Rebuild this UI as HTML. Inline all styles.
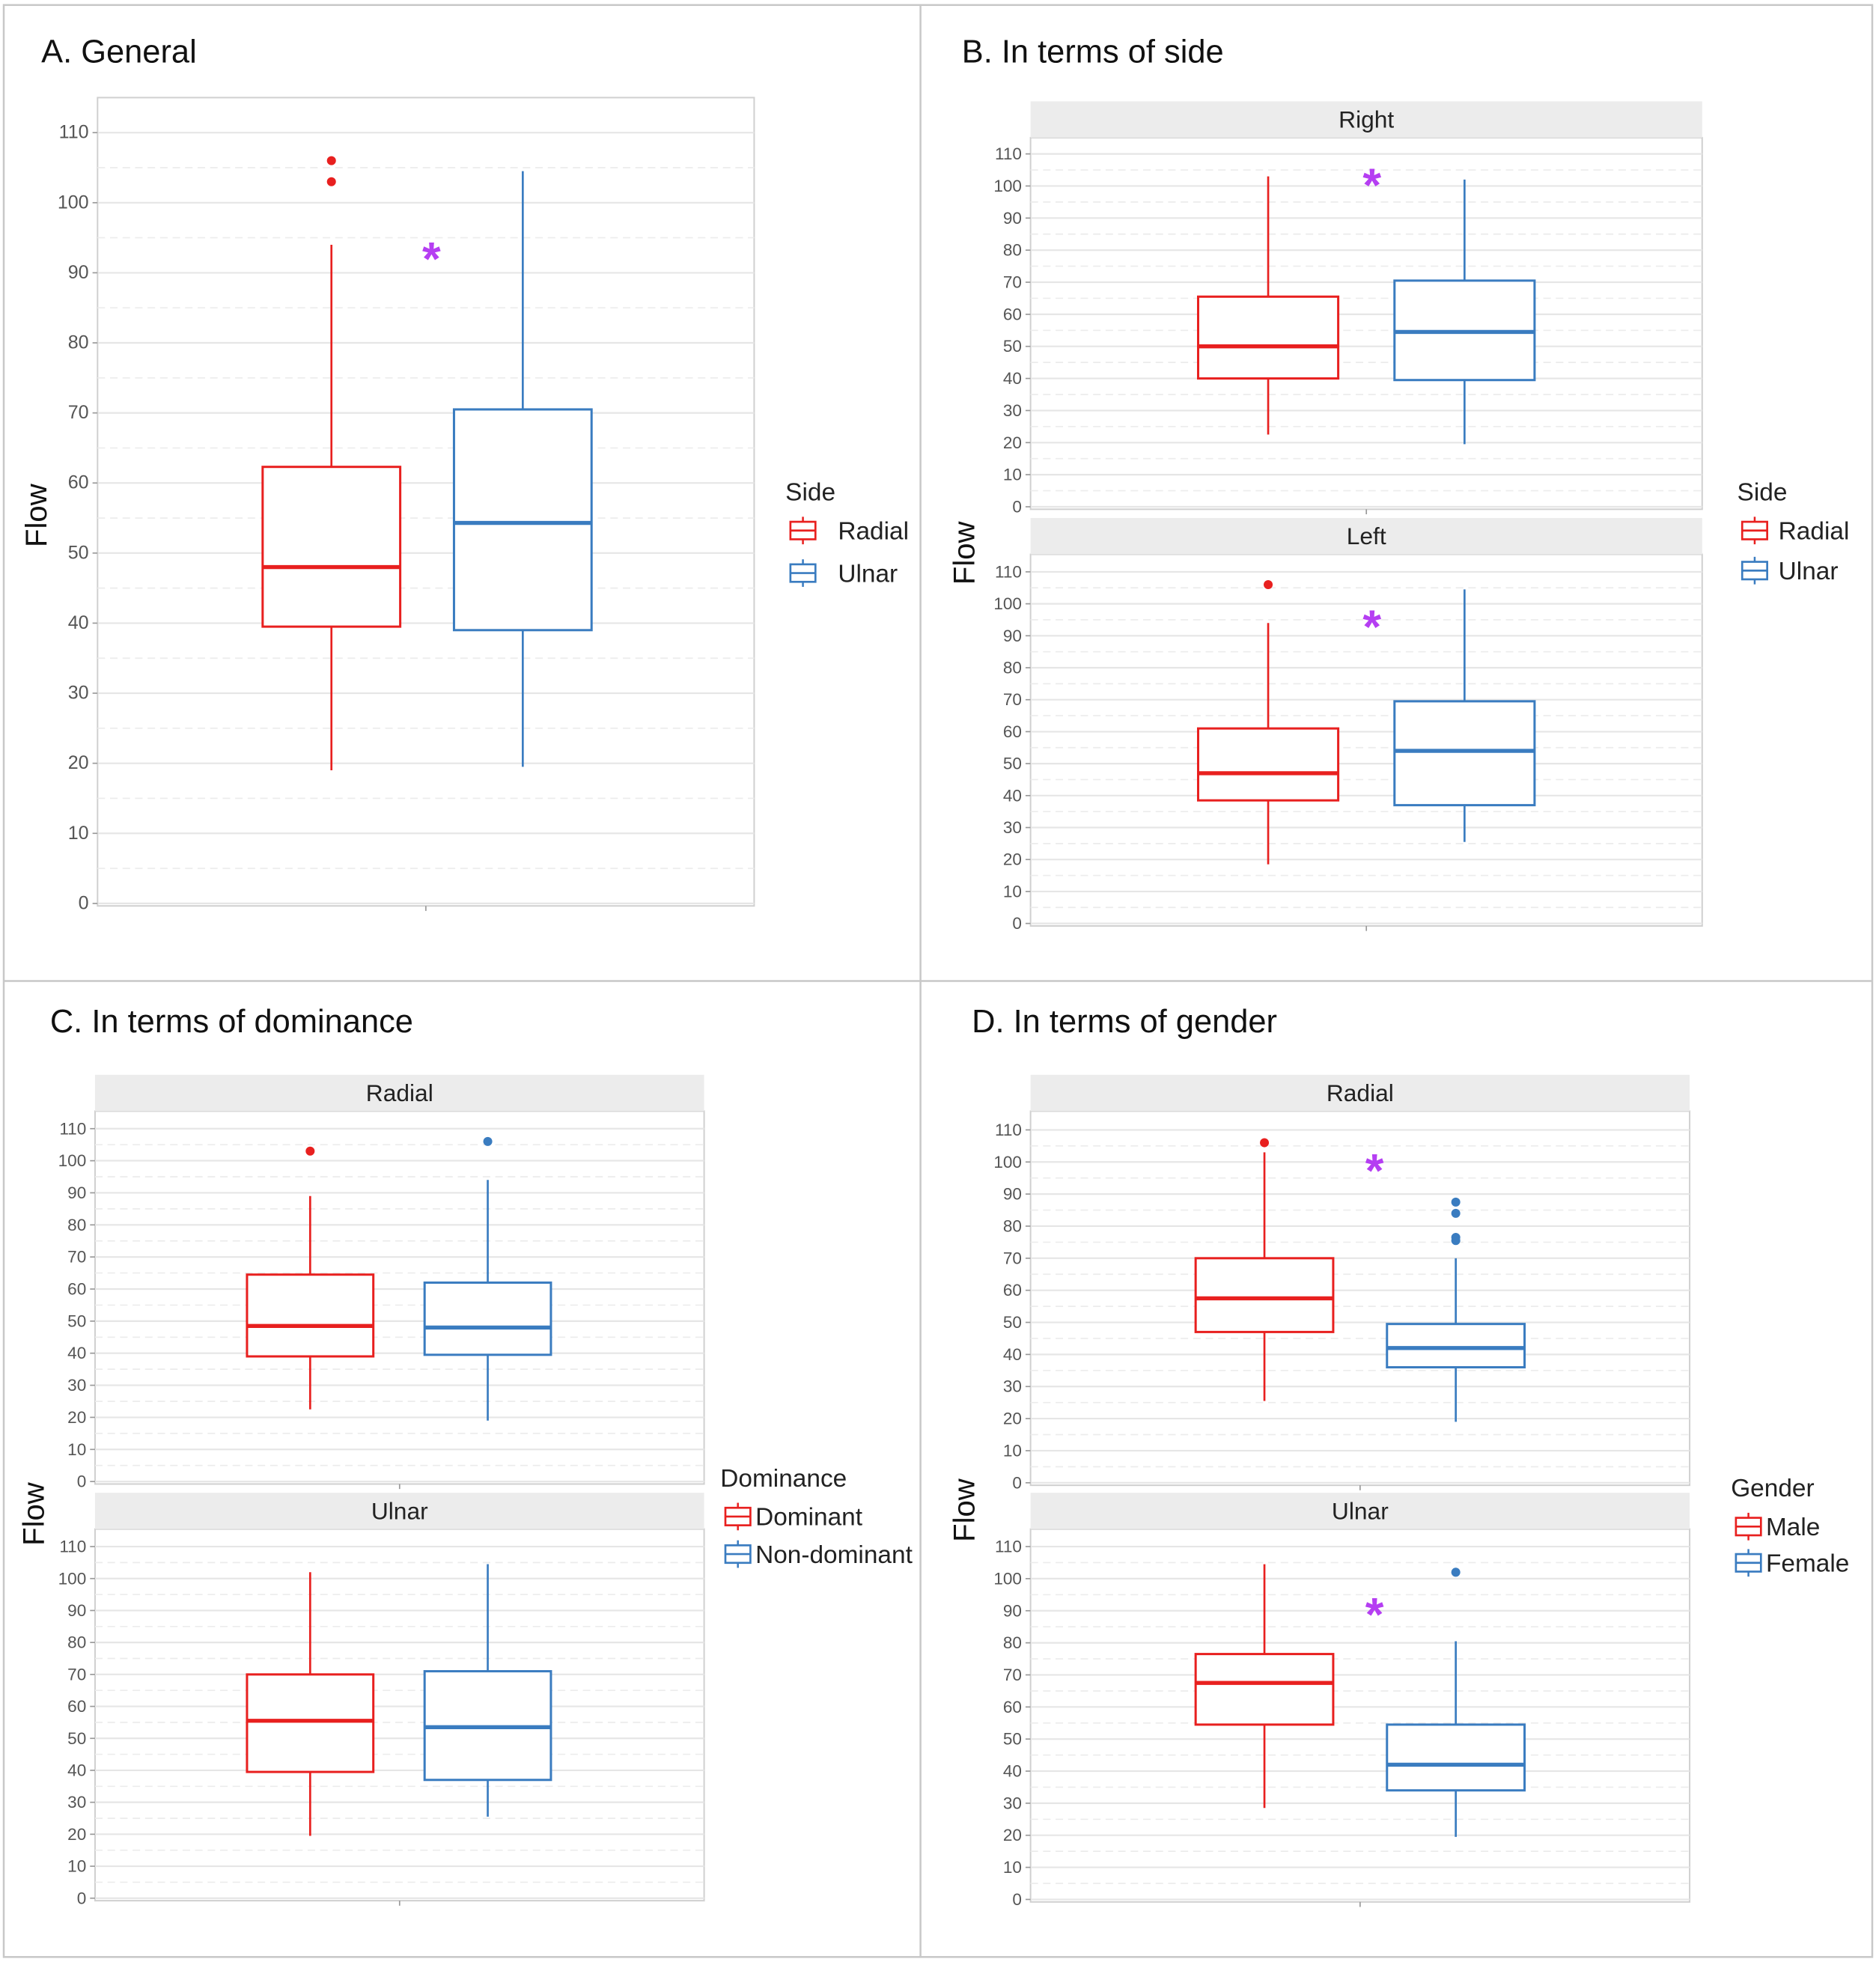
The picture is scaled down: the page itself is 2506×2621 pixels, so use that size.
<!DOCTYPE html>
<html><head><meta charset="utf-8"><style>
html,body{margin:0;padding:0;background:#fff;}
svg{display:block;font-family:"Liberation Sans",sans-serif;}
</style></head><body>
<svg id="fig" width="2506" height="2621" viewBox="0 0 1500 1568" preserveAspectRatio="none">
<rect x="0" y="0" width="1500" height="1568" fill="#fff"/>
<g stroke="#c8c8c8" stroke-width="1.5" fill="none">
<rect x="3" y="4" width="1494" height="1560"/>
<line x1="736" y1="4" x2="736" y2="1564"/>
<line x1="3" y1="784" x2="1497" y2="784"/>
</g>
<g id="root"></g>
</svg>
<script>
// ---- data ----
const groupsA = ["Radial","Ulnar"];
const statsA = [[19,39.5,48,62.3,94],[19.5,39,54.3,70.5,104.5]];
const outA = [[103,106],[]];
const statsBRight = [[22.5,40,50,65.5,103],[19.5,39.5,54.5,70.5,102]];
const outBRight = [[],[]];
const statsBLeft = [[18.5,38.5,47,61,94],[25.5,37,54,69.5,104.5]];
const outBLeft = [[106],[]];
const statsCRadial = [[22.5,39,48.5,64.5,89],[19,39.5,48,62,94]];
const outCRadial = [[103],[106]];
const statsCUlnar = [[19.5,39.5,55.5,70,102],[25.5,37,53.5,71,104.5]];
const outCUlnar = [[],[]];
const statsDRadial = [[25.5,47,57.5,70,103],[19,36,42,49.5,70]];
const outDRadial = [[106],[75.5,76.5,84,87.5]];
const statsDUlnar = [[28.5,54.5,67.5,76.5,104.5],[19.5,34,42,54.5,80.5]];
const outDUlnar = [[],[102]];
const yTicks = [0,10,20,30,40,50,60,70,80,90,100,110];
const sigA = [92.5];
const sigBRight = [101.5];
const sigBLeft = [94];
const sigDRadial = [98.5];
const sigDUlnar = [90];

const NS="http://www.w3.org/2000/svg";
const root=document.getElementById('root');
const COL=["#e8201f","#3a7cc0"];
function el(tag,attrs,parent){const e=document.createElementNS(NS,tag);for(const k in attrs)e.setAttribute(k,attrs[k]);(parent||root).appendChild(e);return e;}
function txt(s,attrs,parent){const e=el('text',attrs,parent);e.textContent=s;return e;}

function panel(cfg){
  const g=el('g',{});
  
  
  const y=v=>cfg.y0-(v/110)*(cfg.y0-cfg.y110);
  el('rect',{x:cfg.x0,y:cfg.top,width:cfg.x1-cfg.x0,height:cfg.y0-cfg.top+2,fill:'#fff',stroke:'#d0d0d0','stroke-width':1.2},g);
  if(cfg.strip){
    const s=el('rect',{x:cfg.x0,y:cfg.top-29,width:cfg.x1-cfg.x0,height:29,fill:'#ececec'},g);
    
    
    txt(cfg.strip,{x:(cfg.x0+cfg.x1)/2,y:cfg.top-8,'font-size':19,'text-anchor':'middle',fill:'#222'},g);
  }
  for(let i=0;i<yTicks.length;i++){
    const v=yTicks[i];
    el('line',{x1:cfg.x0,x2:cfg.x1,y1:y(v),y2:y(v),stroke:'#e6e6e6','stroke-width':1.3},g);
    if(v<110) el('line',{x1:cfg.x0,x2:cfg.x1,y1:y(v+5),y2:y(v+5),stroke:'#ececec','stroke-width':1,'stroke-dasharray':'6,4'},g);
    el('line',{x1:cfg.x0-4,x2:cfg.x0,y1:y(v),y2:y(v),stroke:'#999'},g);
    const t=txt(String(v),{x:cfg.x0-7,y:y(v)+4.5,'font-size':cfg.tickFs,'text-anchor':'end',fill:'#555'},g);
    
    
  }
  const w=cfg.bw;
  for(let k=0;k<2;k++){
    const st=cfg.stats[k], cx=cfg.cx[k], c=COL[k];
    const b=el('g',{},g);
    
    
    el('line',{x1:cx,x2:cx,y1:y(st[0]),y2:y(st[1]),stroke:c,'stroke-width':1.6},b);
    el('line',{x1:cx,x2:cx,y1:y(st[3]),y2:y(st[4]),stroke:c,'stroke-width':1.6},b);
    el('rect',{x:cx-w/2,y:y(st[3]),width:w,height:y(st[1])-y(st[3]),fill:'#fff',stroke:c,'stroke-width':1.8},b);
    el('line',{x1:cx-w/2,x2:cx+w/2,y1:y(st[2]),y2:y(st[2]),stroke:c,'stroke-width':3.2},b);
    for(const o of cfg.out[k]){
      const p=el('circle',{cx:cx,cy:y(o),r:3.6,fill:c},b);
      
      
    }
  }
  el('line',{x1:(cfg.x0+cfg.x1)/2,x2:(cfg.x0+cfg.x1)/2,y1:cfg.y0+2,y2:cfg.y0+6,stroke:'#999'},g);
  if(cfg.sig){
    for(const s of cfg.sig){
      const a=txt('*',{x:cfg.sx,y:y(s)+16,'font-size':38,'font-weight':'bold','text-anchor':'middle',fill:'#b53ef2'},g);
      
      
    }
  }
}

function legend(name,title,labels,x,y,dy,off){
  const g=el('g',{});
  
  
  txt(title,{x:x,y:y,'font-size':20,fill:'#222'},g);
  for(let k=0;k<labels.length;k++){
    const yy=y+24+k*dy, c=COL[k];
    const e=el('g',{},g);
    
    
    el('line',{x1:x+14,x2:x+14,y1:yy-11,y2:yy+11,stroke:c,'stroke-width':1.5},e);
    el('rect',{x:x+4,y:yy-7,width:20,height:14,fill:'#fff',stroke:c,'stroke-width':1.6},e);
    el('line',{x1:x+4,x2:x+24,y1:yy,y2:yy,stroke:c,'stroke-width':1.6},e);
    txt(labels[k],{x:x+off,y:yy+7,'font-size':20,fill:'#222'},e);
  }
}

function title(s,x,y,name){const t=txt(s,{x:x,y:y,'font-size':26,fill:'#111'});}
function flow(x,y){const t=txt('Flow',{x:x,y:y,'font-size':24,fill:'#111','text-anchor':'middle',transform:'rotate(-90 '+x+' '+y+')'});}

title('A. General',33,50,'panel-a-title');
panel({name:'panel-a-plot',x0:78,x1:603,top:78,y0:722,y110:106,bw:110,cx:[265,418],stats:statsA,out:outA,sig:sigA,sx:345,tickFs:15});
flow(37,412);
legend('legend-a','Side',['Radial','Ulnar'],628,400,34,42);

title('B. In terms of side',769,50,'panel-b-title');
panel({name:'panel-b-right',strip:'Right',x0:824,x1:1361,top:110,y0:405,y110:123,bw:112,cx:[1014,1171],stats:statsBRight,out:outBRight,sig:sigBRight,sx:1097,tickFs:13.5});
panel({name:'panel-b-left',strip:'Left',x0:824,x1:1361,top:443,y0:738,y110:457,bw:112,cx:[1014,1171],stats:statsBLeft,out:outBLeft,sig:sigBLeft,sx:1097,tickFs:13.5});
flow(779,442);
legend('legend-b','Side',['Radial','Ulnar'],1389,400,32,33);

title('C. In terms of dominance',40,825,'panel-c-title');
panel({name:'panel-c-radial',strip:'Radial',x0:76,x1:563,top:888,y0:1184,y110:902,bw:101,cx:[248,390],stats:statsCRadial,out:outCRadial,tickFs:13.5});
panel({name:'panel-c-ulnar',strip:'Ulnar',x0:76,x1:563,top:1222,y0:1517,y110:1236,bw:101,cx:[248,390],stats:statsCUlnar,out:outCUlnar,tickFs:13.5});
flow(35,1210);
legend('legend-c','Dominance',['Dominant','Non-dominant'],576,1188,30,28);

title('D. In terms of gender',777,825,'panel-d-title');
panel({name:'panel-d-radial',strip:'Radial',x0:824,x1:1351,top:888,y0:1185,y110:903,bw:110,cx:[1011,1164],stats:statsDRadial,out:outDRadial,sig:sigDRadial,sx:1099,tickFs:13.5});
panel({name:'panel-d-ulnar',strip:'Ulnar',x0:824,x1:1351,top:1222,y0:1518,y110:1236,bw:110,cx:[1011,1164],stats:statsDUlnar,out:outDUlnar,sig:sigDUlnar,sx:1099,tickFs:13.5});
flow(779,1207);
legend('legend-d','Gender',['Male','Female'],1384,1196,29,28);
</script>
</body></html>
